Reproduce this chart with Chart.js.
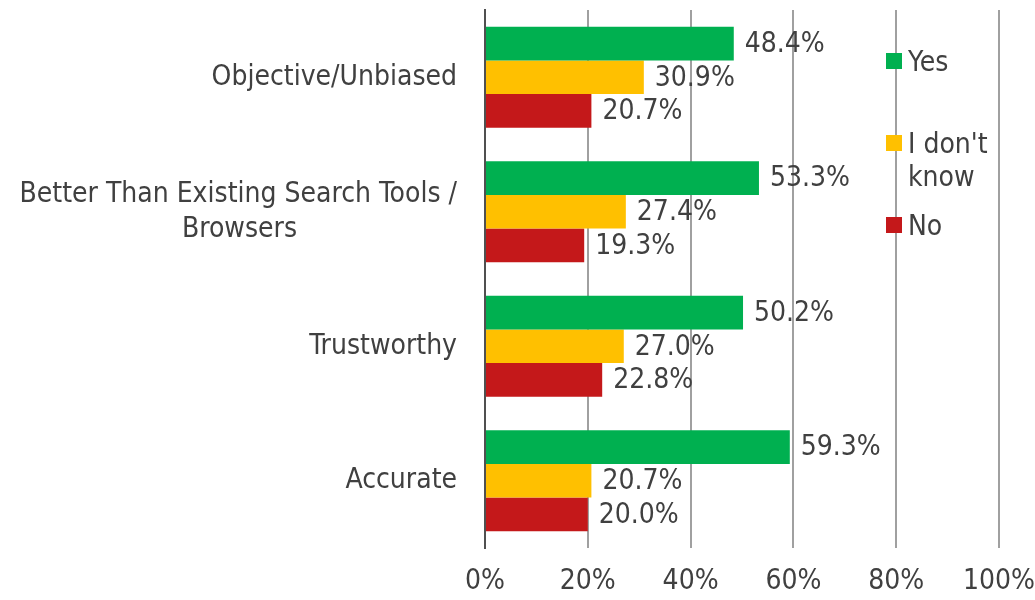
<!DOCTYPE html>
<html lang="en">
<head>
    <meta charset="UTF-8">
    <title>Survey Ratings</title>
    <script src="https://cdn.jsdelivr.net/npm/chart.js"></script>
    <style>
        body { margin: 0; background: #fff; }
        #wrap { position: relative; width: 1035px; height: 600px; }
        #chart { display: block; }
        .legend { position: absolute; left: 886px; top: 0; font: 28px "DejaVu Sans Condensed", "DejaVu Sans", sans-serif; color: #404040; }
        .legend div { position: absolute; white-space: nowrap; }
        .legend .box { width: 16px; height: 16px; }
        .legend .txt { left: 22px; line-height: 33px; }
    </style>
</head>
<body>
    <div id="wrap">
        <canvas id="chart" width="1035" height="600"></canvas>
        <div id="legend"></div>
    </div>

    <script>
        const categories = ["Objective/Unbiased", "Better Than Existing Search Tools / Browsers", "Trustworthy", "Accurate"];
        const seriesNames = ["Yes", "I don't know", "No"];
        const yesValues = [48.4, 53.3, 50.2, 59.3];
        const dontKnowValues = [30.9, 27.4, 27.0, 20.7];
        const noValues = [20.7, 19.3, 22.8, 20.0];
        const xTicks = [0, 20, 40, 60, 80, 100];

        const colors = ["#00b050", "#ffc000", "#c4181a"];
        const fontFamily = '"DejaVu Sans Condensed", "DejaVu Sans", sans-serif';
        const textColor = "#404040";

        // the long label wraps in two lines, centred on each other
        let measure = document.createElement("canvas").getContext("2d");
        measure.font = "28px " + fontFamily;
        function wrapCentered(line1, line2) {
            let shift = (measure.measureText(line1).width - measure.measureText(line2).width) / 2;
            let n = Math.round(shift / measure.measureText(" ").width);
            return [line1, line2 + " ".repeat(n)];
        }
        const yLabels = categories.map(c => {
            let idx = c.indexOf("/ ");
            if (c.length > 30 && idx > 0) return wrapCentered(c.slice(0, idx + 1), c.slice(idx + 2));
            return c;
        });

        const valueLabels = {
            id: "valueLabels",
            afterDatasetsDraw(chart) {
                let ctx = chart.ctx;
                ctx.save();
                ctx.font = "28px " + fontFamily;
                ctx.fillStyle = textColor;
                ctx.textAlign = "left";
                ctx.textBaseline = "middle";
                chart.data.datasets.forEach((ds, i) => {
                    chart.getDatasetMeta(i).data.forEach((bar, j) => {
                        ctx.fillText(ds.data[j].toFixed(1) + "%", bar.x + 11, bar.y + 1);
                    });
                });
                ctx.restore();
            }
        };

        new Chart(document.getElementById("chart"), {
            type: "bar",
            data: {
                labels: yLabels,
                datasets: [
                    { label: seriesNames[0], data: yesValues, backgroundColor: colors[0] },
                    { label: seriesNames[1], data: dontKnowValues, backgroundColor: colors[1] },
                    { label: seriesNames[2], data: noValues, backgroundColor: colors[2] }
                ]
            },
            options: {
                indexAxis: "y",
                responsive: false,
                animation: false,
                layout: { padding: { top: 10, right: 36, left: 0, bottom: 0 } },
                datasets: { bar: { categoryPercentage: 0.75, barPercentage: 1 } },
                plugins: { legend: { display: false }, tooltip: { enabled: false } },
                scales: {
                    x: {
                        min: 0,
                        max: 100,
                        afterBuildTicks: s => { s.ticks = xTicks.map(v => ({ value: v })); },
                        afterFit: s => { s.height = 52; s.paddingLeft = 0; s.paddingRight = 0; },
                        grid: {
                            drawTicks: false,
                            lineWidth: 2,
                            color: c => c.tick && c.tick.value === 0 ? "#505050" : "#a0a0a0"
                        },
                        border: { display: false },
                        ticks: {
                            padding: 17,
                            color: textColor,
                            font: { family: fontFamily, size: 28 },
                            callback: v => v + "%"
                        }
                    },
                    y: {
                        afterFit: s => { s.width = 485; s.paddingTop = 0; s.paddingBottom = 0; },
                        grid: { display: false, drawTicks: false },
                        border: { display: true, color: "#505050", width: 2 },
                        ticks: {
                            padding: 28,
                            color: textColor,
                            font: { family: fontFamily, size: 28, lineHeight: 1.25 }
                        }
                    }
                }
            },
            plugins: [valueLabels]
        });

        // legend sits inside the plot, to the right of the bars
        const legendRows = [
            { top: 53, lines: ["Yes"] },
            { top: 135, lines: ["I don't", "know"] },
            { top: 217, lines: ["No"] }
        ];
        let legend = document.getElementById("legend");
        legend.className = "legend";
        legendRows.forEach((row, i) => {
            let box = document.createElement("div");
            box.className = "box";
            box.style.top = row.top + "px";
            box.style.background = colors[i];
            legend.appendChild(box);
            let txt = document.createElement("div");
            txt.className = "txt";
            txt.style.top = (row.top + 8 - 16.5) + "px";
            txt.innerHTML = row.lines.join("<br>");
            legend.appendChild(txt);
        });
    </script>
</body>
</html>
